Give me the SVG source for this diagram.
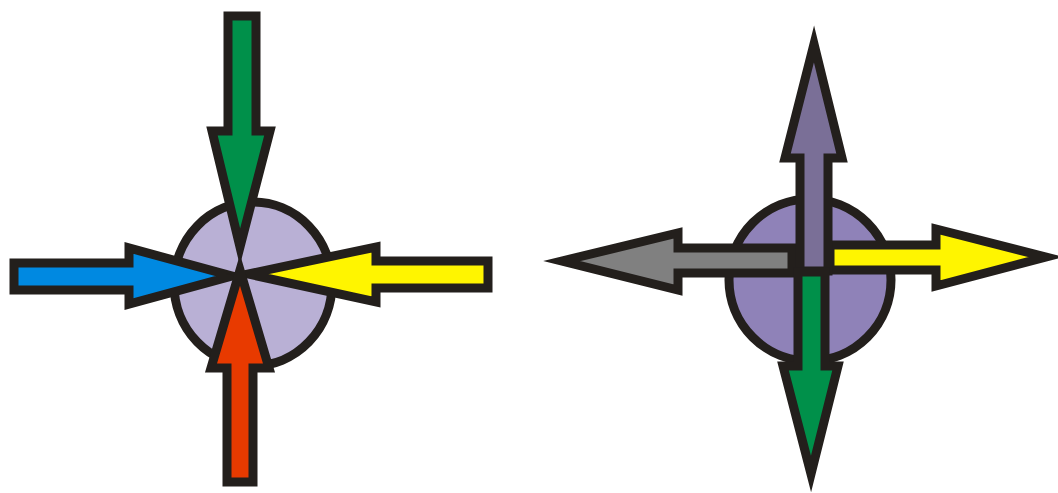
<svg xmlns="http://www.w3.org/2000/svg" width="1058" height="493" viewBox="0 0 1058 493">
<style>
.o{stroke:#231F1C;stroke-width:9;stroke-linejoin:miter;stroke-miterlimit:10}
</style>
<rect width="1058" height="493" fill="#ffffff"/>
<g id="left-hub">
<ellipse id="hub1" class="o" cx="253" cy="284" rx="79" ry="82" fill="#B9B0D5"/>
</g>
<g id="left-arrows">
<polygon id="green-in" class="o" fill="#00904A" points="228,16 256,16 256,131 270,131 240,247 212,131 228,131"/>
<polygon id="blue-in" class="o" fill="#0089E1" points="14,263 129,263 129,248 232,276 129,304 129,290 14,290"/>
<polygon id="yellow-in" class="o" fill="#FFF500" points="488,261 376,261 376,247 248,274 376,302 376,288 488,288"/>
<polygon id="red-in" class="o" fill="#E83A00" points="227,482 253,482 253,368 269,368 240,270 211,368 227,368"/>
</g>
<g id="right-hub">
<circle id="hub2" class="o" cx="810" cy="280" r="81" fill="#8F82B8"/>
</g>
<g id="right-arrows">
<polygon id="gray-out" class="o" fill="#808080" points="792,248 678,248 678,233 562,261 678,290 678,273 792,273"/>
<polygon id="yellow-out" class="o" fill="#FFF500" points="830,245 936,245 936,229 1046,257 936,286 936,270 830,270"/>
<polygon id="purple-out" class="o" fill="#7A6F97" points="800,271 800,158 785,158 814,44 842,158 828,158 828,271"/>
<polygon id="green-out" class="o" fill="#00904A" points="798,272 825,272 825,366 838,366 811,474 783,366 798,366"/>
</g>
</svg>
